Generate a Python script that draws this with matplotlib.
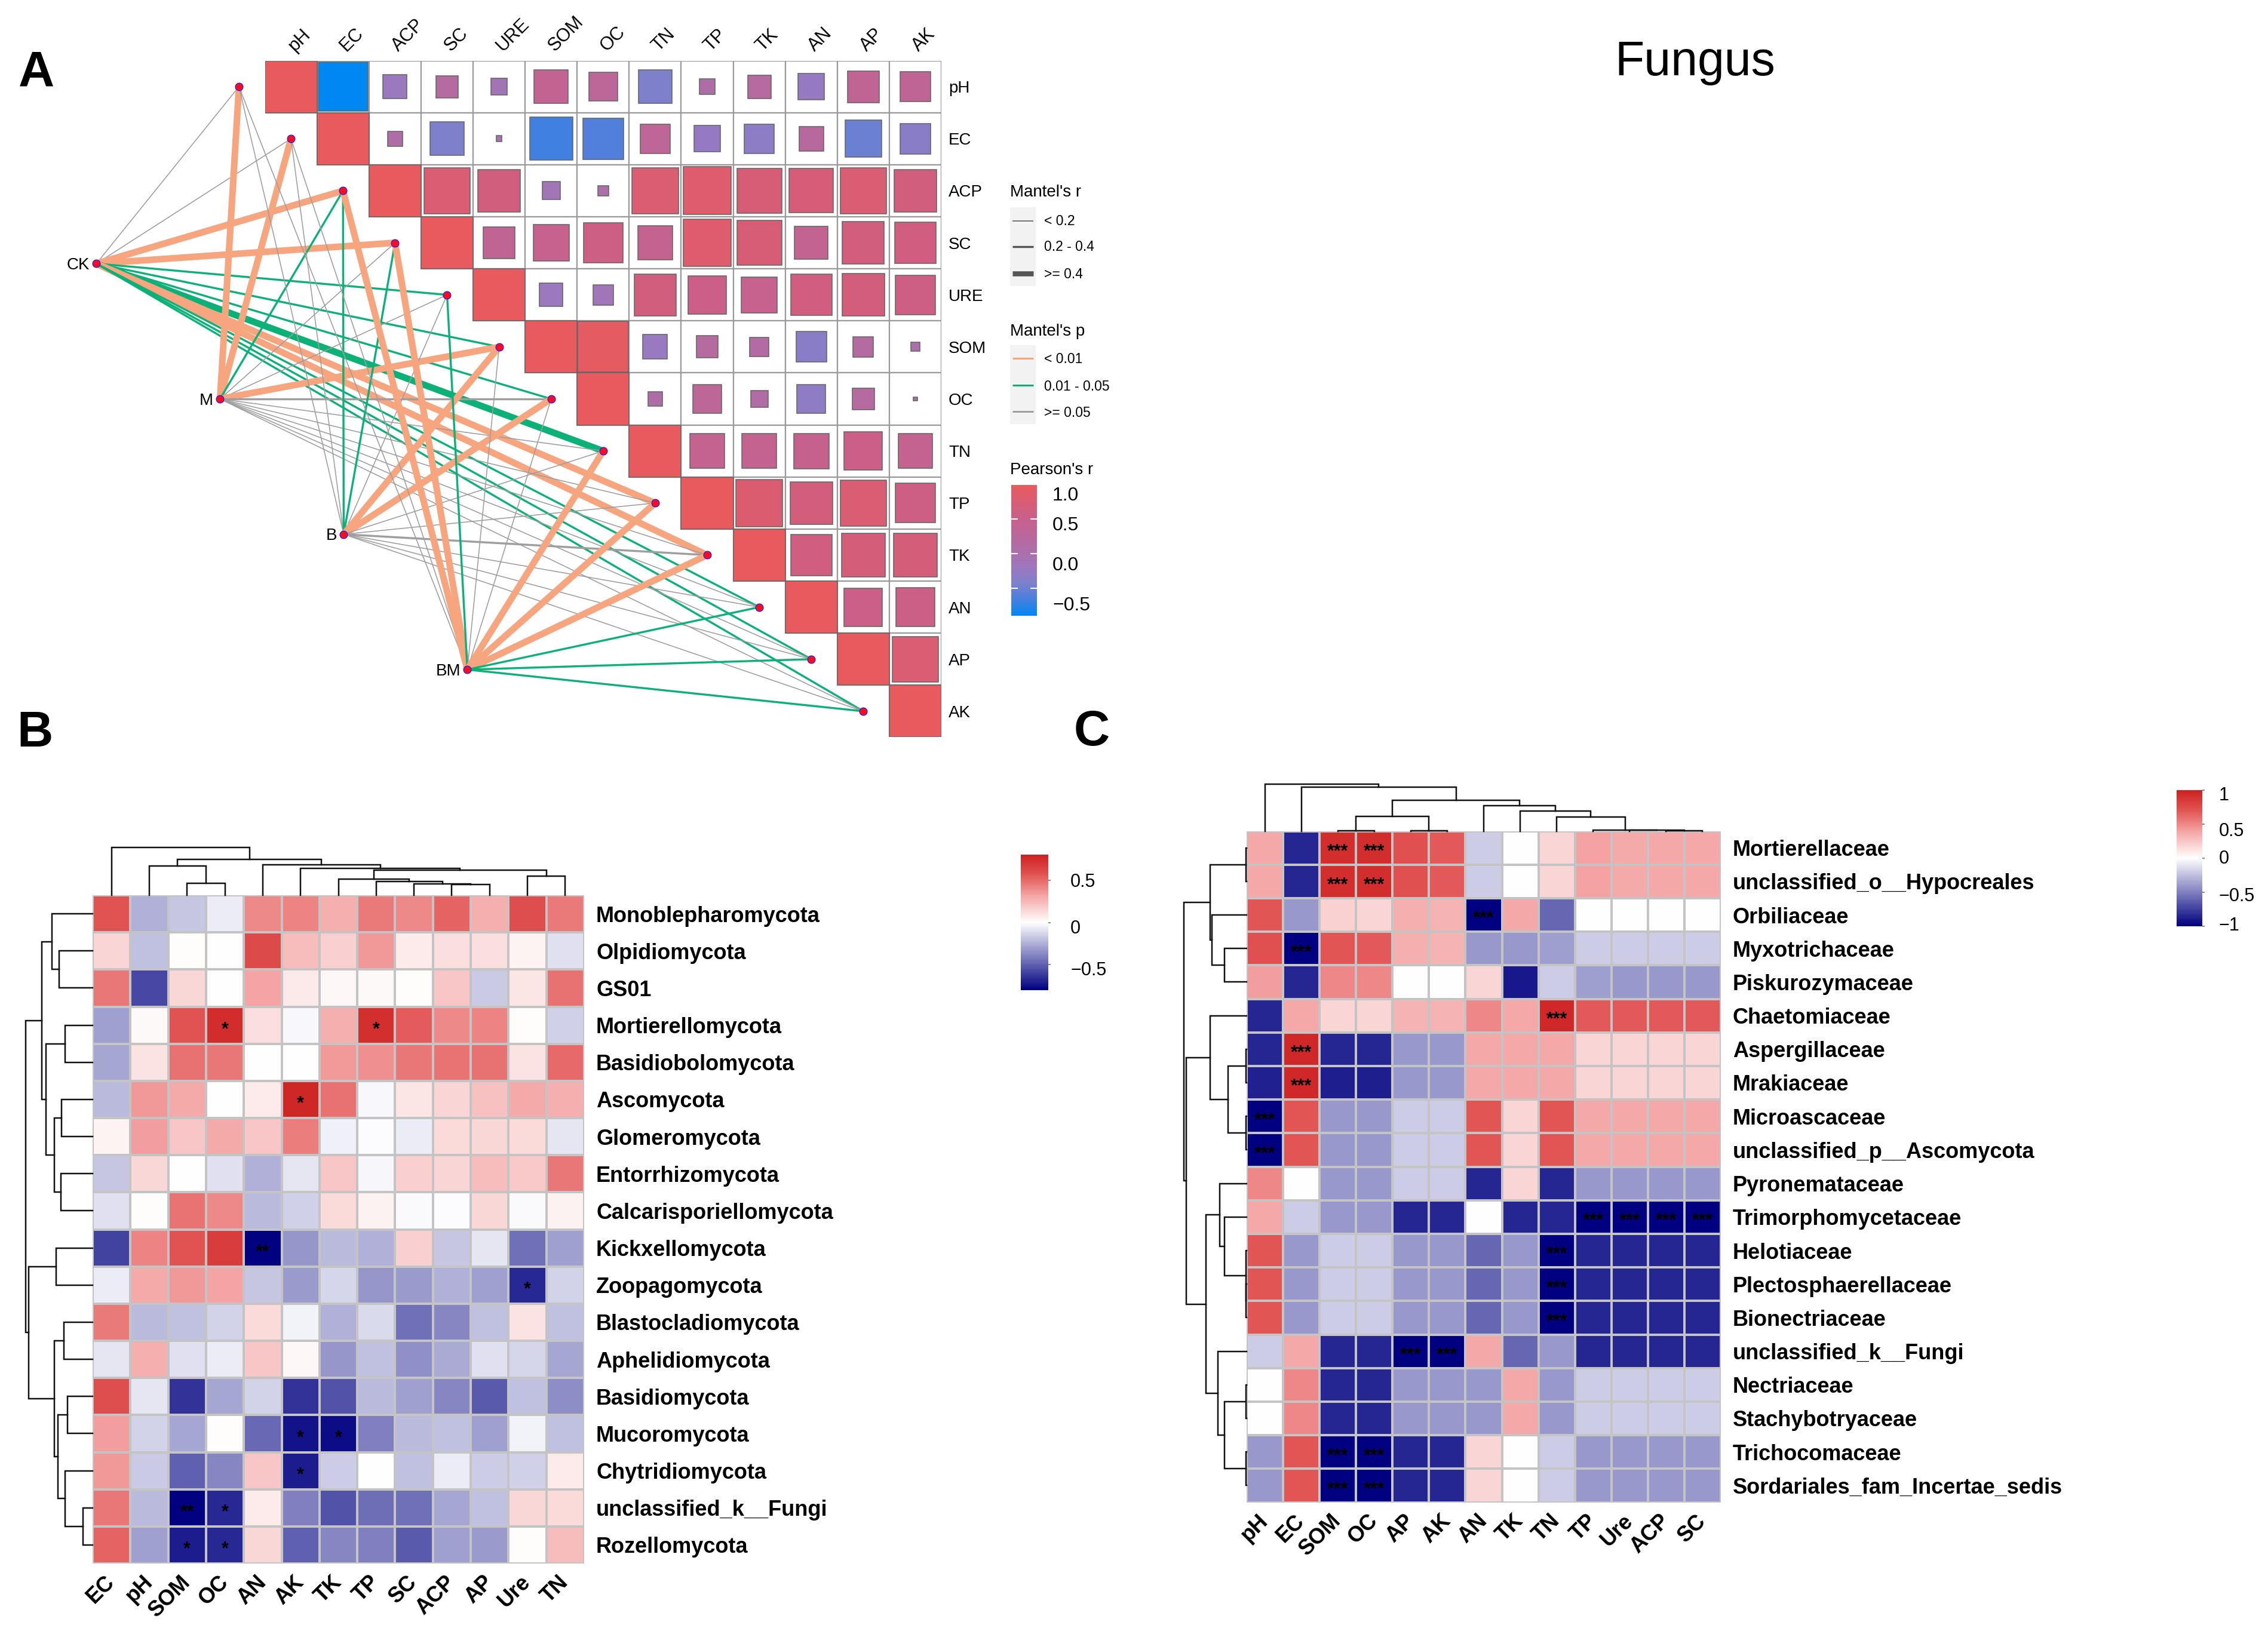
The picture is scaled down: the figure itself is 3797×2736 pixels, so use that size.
import numpy as np
import matplotlib
matplotlib.use("Agg")
import matplotlib.pyplot as plt
from matplotlib.colors import LinearSegmentedColormap, Normalize
from matplotlib.cm import ScalarMappable
from matplotlib.patches import Rectangle

plt.rcParams['font.family'] = ['Liberation Sans', 'DejaVu Sans']

W, H = 3797, 2736

# ---------- Panel A data ----------
env_a = ["pH", "EC", "ACP", "SC", "URE", "SOM", "OC", "TN", "TP", "TK", "AN", "AP", "AK"]
r_pH = [1, -.9, -.21, .18, -.10, .42, .31, -.42, .085, .2, -.25, .37, .34]
r_EC = [1, .08, -.42, -.012, -.69, -.62, .32, -.26, -.32, .22, -.5, -.34]
r_ACP = [1, .77, .65, -.12, .04, .79, .84, .74, .72, .77, .65]
r_SC = [1, .37, .48, .58, .44, .84, .74, .41, .65, .63]
r_URE = [1, -.2, -.15, .65, .54, .48, .63, .67, .58]
r_SOM = [1, .95, -.22, .18, .14, -.34, .15, .03]
r_OC = [1, .08, .31, .11, -.31, .18, .005]
r_TN = [1, .44, .44, .46, .54, .44]
r_TP = [1, .81, .67, .77, .58]
r_TK = [1, .63, .69, .69]
r_AN = [1, .54, .56]
r_AP = [1, .77]
r_AK = [1]
pearson_rows = [r_pH, r_EC, r_ACP, r_SC, r_URE, r_SOM, r_OC, r_TN, r_TP, r_TK, r_AN, r_AP, r_AK]

hubs = ["CK", "M", "B", "BM"]
# p class: 0 <0.01, 1 0.01-0.05, 2 >=0.05 ; r class: 0 <0.2, 1 0.2-0.4, 2 >=0.4
p_CK = [2, 2, 0, 0, 1, 1, 1, 1, 0, 0, 1, 1, 1]
r_CK = [0, 0, 2, 2, 1, 1, 1, 2, 2, 2, 1, 1, 1]
p_M = [0, 0, 1, 2, 2, 0, 2, 2, 2, 2, 2, 2, 2]
r_M = [2, 2, 1, 0, 0, 2, 1, 0, 0, 0, 0, 0, 0]
p_B = [2, 2, 1, 1, 2, 0, 0, 2, 2, 2, 2, 2, 2]
r_B = [0, 0, 1, 1, 0, 2, 2, 0, 0, 1, 0, 0, 0]
p_BM = [2, 2, 0, 0, 1, 2, 2, 0, 0, 0, 1, 1, 1]
r_BM = [0, 0, 2, 2, 1, 0, 0, 2, 2, 2, 1, 1, 1]
mantel_p = [p_CK, p_M, p_B, p_BM]
mantel_r = [r_CK, r_M, r_B, r_BM]
r_legend = ["< 0.2", "0.2 - 0.4", ">= 0.4"]
p_legend = ["< 0.01", "0.01 - 0.05", ">= 0.05"]

# ---------- Panel B data ----------
cols_b = ["EC", "pH", "SOM", "OC", "AN", "AK", "TK", "TP", "SC", "ACP", "AP", "Ure", "TN"]
rows_b = ["Monoblepharomycota", "Olpidiomycota", "GS01", "Mortierellomycota", "Basidiobolomycota",
          "Ascomycota", "Glomeromycota", "Entorrhizomycota", "Calcarisporiellomycota", "Kickxellomycota",
          "Zoopagomycota", "Blastocladiomycota", "Aphelidiomycota", "Basidiomycota", "Mucoromycota",
          "Chytridiomycota", "unclassified_k__Fungi", "Rozellomycota"]
vals_b = [
    [.58, -.25, -.18, -.06, .4, .42, .28, .45, .4, .52, .28, .6, .45],
    [.15, -.2, .01, 0, .62, .24, .17, .36, .07, .12, .12, .04, -.1],
    [.46, -.58, .14, .005, .32, .08, .03, .02, .01, .2, -.17, .09, .48],
    [-.3, .02, .58, .75, .12, -.02, .28, .74, .55, .4, .42, .01, -.15],
    [-.28, .1, .48, .46, 0, 0, .35, .38, .46, .47, .48, .1, .5],
    [-.22, .36, .3, 0, .07, .78, .48, -.02, .09, .15, .22, .3, .28],
    [.04, .34, .2, .3, .2, .44, -.05, -.01, -.06, .13, .14, .13, -.08],
    [-.18, .14, 0, -.1, -.25, -.08, .2, -.03, .17, .15, .24, .19, .46],
    [-.1, .01, .47, .4, -.22, -.15, .13, .05, -.015, -.01, .14, -.015, .05],
    [-.6, .42, .58, .68, -.8, -.33, -.22, -.25, .17, -.18, -.08, -.45, -.3],
    [-.06, .3, .36, .32, -.18, -.32, -.13, -.33, -.32, -.25, -.3, -.68, -.14],
    [.45, -.22, -.2, -.14, .13, -.04, -.25, -.12, -.45, -.38, -.2, .1, -.2],
    [-.08, .28, -.1, -.06, .2, .03, -.33, -.2, -.35, -.27, -.1, -.13, -.28],
    [.6, -.08, -.65, -.28, -.14, -.65, -.55, -.22, -.3, -.38, -.52, -.2, -.36],
    [.34, -.14, -.28, .01, -.48, -.75, -.77, -.4, -.22, -.2, -.3, -.04, -.2],
    [.36, -.17, -.5, -.38, .2, -.72, -.16, 0, -.2, -.06, -.16, -.15, .07],
    [.46, -.22, -.8, -.68, .07, -.4, -.55, -.46, -.45, -.28, -.2, .14, .13],
    [.52, -.3, -.72, -.68, .14, -.5, -.38, -.4, -.52, -.3, -.32, .01, .24],
]
stars_b = {(3, 3): "*", (3, 7): "*", (5, 5): "*", (9, 4): "**", (10, 11): "*", (14, 5): "*", (14, 6): "*",
           (15, 5): "*", (16, 2): "**", (16, 3): "*", (17, 2): "*", (17, 3): "*"}
tree_b_top = (90, 0, (68, (55, 1, (23, 2, 3)), (58, 4, (51, 5, (47, (30, 6, (26, 7, (22, 8, (20, 9, 10)))), (36, 11, 12))))))
tree_b_left = (92, (70, (56, 0, (46, 1, 2)), (64, (38, 3, 4), (53, (43, 5, 6), (44, 7, 8)))),
               (88, (50, 9, 10), (53, (40, 11, 12), (48, (35, 13, 14), (38, 15, (13, 16, 17))))))

# ---------- Panel C data ----------
cols_c = ["pH", "EC", "SOM", "OC", "AP", "AK", "AN", "TK", "TN", "TP", "Ure", "ACP", "SC"]
rows_c = ["Mortierellaceae", "unclassified_o__Hypocreales", "Orbiliaceae", "Myxotrichaceae", "Piskurozymaceae",
          "Chaetomiaceae", "Aspergillaceae", "Mrakiaceae", "Microascaceae", "unclassified_p__Ascomycota",
          "Pyronemataceae", "Trimorphomycetaceae", "Helotiaceae", "Plectosphaerellaceae", "Bionectriaceae",
          "unclassified_k__Fungi", "Nectriaceae", "Stachybotryaceae", "Trichocomaceae",
          "Sordariales_fam_Incertae_sedis"]
vals_c = [
    [.38, -.85, .92, .92, .72, .68, -.2, 0, .18, .4, .37, .38, .38],
    [.38, -.85, .92, .92, .72, .68, -.2, 0, .18, .4, .37, .38, .38],
    [.7, -.4, .2, .18, .35, .33, -1, .38, -.6, 0, 0, 0, 0],
    [.72, -1, .7, .68, .35, .33, -.4, -.4, -.38, -.2, -.2, -.2, -.2],
    [.42, -.85, .5, .5, 0, 0, .18, -.9, -.2, -.38, -.4, -.4, -.4],
    [-.85, .38, .18, .18, .33, .33, .5, .38, .95, .68, .68, .68, .68],
    [-.85, .95, -.85, -.85, -.4, -.4, .38, .38, .38, .18, .18, .18, .18],
    [-.87, .95, -.88, -.88, -.4, -.4, .38, .38, .38, .18, .18, .18, .18],
    [-1, .7, -.4, -.4, -.2, -.2, .7, .18, .7, .38, .38, .38, .38],
    [-1, .7, -.4, -.4, -.2, -.2, .7, .18, .7, .38, .38, .38, .38],
    [.5, 0, -.4, -.4, -.2, -.2, -.85, .18, -.85, -.4, -.4, -.4, -.4],
    [.38, -.2, -.4, -.4, -.85, -.85, 0, -.85, -.85, -1, -1, -1, -1],
    [.7, -.4, -.2, -.2, -.4, -.4, -.6, -.4, -1, -.85, -.85, -.85, -.85],
    [.7, -.4, -.2, -.2, -.4, -.4, -.6, -.4, -1, -.85, -.85, -.85, -.85],
    [.7, -.4, -.2, -.2, -.4, -.4, -.6, -.4, -1, -.85, -.85, -.85, -.85],
    [-.2, .38, -.85, -.85, -1, -1, .38, -.6, -.4, -.85, -.85, -.85, -.85],
    [0, .5, -.85, -.85, -.4, -.4, -.4, .38, -.4, -.2, -.2, -.2, -.2],
    [0, .5, -.85, -.85, -.4, -.4, -.4, .38, -.4, -.2, -.2, -.2, -.2],
    [-.4, .7, -1, -1, -.85, -.85, .18, 0, -.2, -.4, -.4, -.4, -.4],
    [-.4, .7, -1, -1, -.85, -.85, .18, 0, -.2, -.4, -.4, -.4, -.4],
]
stars_c = {(0, 2): "***", (0, 3): "***", (1, 2): "***", (1, 3): "***", (2, 6): "***", (3, 1): "***",
           (5, 8): "***", (6, 1): "***", (7, 1): "***", (8, 0): "***", (9, 0): "***",
           (11, 9): "***", (11, 10): "***", (11, 11): "***", (11, 12): "***",
           (12, 8): "***", (13, 8): "***", (14, 8): "***", (15, 4): "***", (15, 5): "***",
           (18, 2): "***", (18, 3): "***", (19, 2): "***", (19, 3): "***"}
tree_c_top = (88, 0, (82, 1, (58, (28, (1, 2, 3), (1, 4, 5)),
              (48, 6, (38, 7, (26, 8, (1.5, 9, (1.2, 10, (1, 11, 12)))))))))
tree_c_left = (89, (52, (1, 0, 1), (49, 2, (31, 3, 4))),
               (86, (52, 5, (26, (1, 6, 7), (1, 8, 9))),
                (58, (38, 10, (31, 11, (1, 12, (.8, 13, 14)))), (41, 15, (31, (1, 16, 17), (1, 18, 19))))))

# ---------- helpers ----------
fig = plt.figure(figsize=(W / 100, H / 100), dpi=100, facecolor="white")


def axpx(x0, y0, x1, y1, **kw):
    return fig.add_axes([x0 / W, 1 - y1 / H, (x1 - x0) / W, (y1 - y0) / H], **kw)


def px(p):
    return p * 0.72


over = fig.add_axes([0, 0, 1, 1], zorder=20)
over.set_xlim(0, W)
over.set_ylim(H, 0)
over.axis("off")
over.patch.set_alpha(0)

heat = LinearSegmentedColormap.from_list(
    "navy_white_red",
    [(0, "#000080"), (.5, "#ffffff"), (.69, "#f5a8a8"), (.85, "#e25555"), (1, "#CD2020")])


def dendro(ax, node, orient):
    if not isinstance(node, tuple):
        return node + 0.5, 0.0
    h, a, b = node
    ca, ha_ = dendro(ax, a, orient)
    cb, hb = dendro(ax, b, orient)
    ps = [ca, ca, cb, cb]
    hs = [ha_, h, h, hb]
    if orient == "top":
        ax.plot(ps, hs, color="#111111", lw=px(2.5), solid_joinstyle="miter", clip_on=False)
    else:
        ax.plot([-v for v in hs], ps, color="#111111", lw=px(2.5), solid_joinstyle="miter", clip_on=False)
    return (ca + cb) / 2, h


def heatmap(rect, vals, cols, rows, stars, vlim, tree_top, tree_left, top_px, left_px, top_max, left_max, star_fs):
    x0, y0, x1, y1 = rect
    data = np.array(vals, dtype=float)
    nr, nc = data.shape
    ax = axpx(x0, y0, x1, y1)
    ax.pcolormesh(np.arange(nc + 1), np.arange(nr + 1), data, cmap=heat, vmin=-vlim, vmax=vlim,
                  edgecolors="#c4c4c4", linewidth=px(2.5))
    ax.set_xlim(0, nc)
    ax.set_ylim(nr, 0)
    for s in ax.spines.values():
        s.set_visible(False)
    ax.set_xticks(np.arange(nc) + .5)
    ax.set_xticklabels(cols, rotation=45, ha="right", va="center", rotation_mode="anchor",
                       fontsize=26, fontweight="bold")
    ax.tick_params(axis="x", length=0, pad=px(26))
    ax.yaxis.tick_right()
    ax.set_yticks(np.arange(nr) + .5)
    ax.set_yticklabels(rows, fontsize=26, fontweight="bold")
    ax.tick_params(axis="y", length=0, pad=px(20))
    for (i, j), s in stars.items():
        ax.text(j + .5, i + .62, s, ha="center", va="center", fontsize=star_fs, fontweight="bold", color="black")
    t = axpx(x0, y0 - top_px, x1, y0)
    dendro(t, tree_top, "top")
    t.set_xlim(0, nc)
    t.set_ylim(0, top_max)
    t.axis("off")
    l = axpx(x0 - left_px, y0, x0, y1)
    dendro(l, tree_left, "left")
    l.set_xlim(-left_max, 0)
    l.set_ylim(nr, 0)
    l.axis("off")


def cbar_heat(rect, vlim, ticks, labels):
    cax = axpx(*rect)
    cb = fig.colorbar(ScalarMappable(Normalize(-vlim, vlim), heat), cax=cax, ticks=ticks)
    cb.outline.set_visible(False)
    cb.ax.tick_params(length=3, width=1.2, color="#777777", labelright=False)
    for txt, (lx, ly) in labels:
        over.text(lx, ly, txt, fontsize=22, ha="left", va="center")


# ---------- Panel A ----------
GX0, GX1, GY0, GY1 = 443.6, 1576, 101.5, 1234.5
axa = axpx(GX0, GY0, GX1, GY1)
axa.set_xlim(-.5, 12.5)
axa.set_ylim(12.5, -.5)
for s in axa.spines.values():
    s.set_visible(False)

pear_stops = [(-.9, "#0088f2"), (-.7, "#3e80e2"), (-.42, "#8080cc"), (-.2, "#9c78be"), (0, "#aa70ac"),
              (.5, "#c8608c"), (1.0, "#e85a5e")]
pnorm = Normalize(-.9, 1.0)
pcmap = LinearSegmentedColormap.from_list("pearson", [(pnorm(v), c) for v, c in pear_stops])

hub_x = np.linspace(-3.74, 3.39, 4)
hub_y = np.linspace(3.40, 11.2, 4)
p_cols = ["#F7A57E", "#0CB177", "#9E9E9E"]
r_widths = [1.6, 3.4, 11]
for h, name in enumerate(hubs):
    for j in range(len(env_a)):
        axa.plot([hub_x[h], j - 1], [hub_y[h], j], color=p_cols[mantel_p[h][j]],
                 lw=px(r_widths[mantel_r[h][j]]), clip_on=False, zorder=1, solid_capstyle="butt")
    axa.text(hub_x[h] - .13, hub_y[h] + .03, name, ha="right", va="center", fontsize=20, zorder=5)
node_x = np.arange(len(env_a)) - 1
node_y = np.arange(len(env_a))
axa.scatter(node_x, node_y, s=85, facecolor="#FF0A20", edgecolor="#2020E0", linewidth=.9, zorder=4, clip_on=False)
axa.scatter(hub_x, hub_y, s=85, facecolor="#FF0A20", edgecolor="#2020E0", linewidth=.9, zorder=4, clip_on=False)

for i, row in enumerate(pearson_rows):
    for k, r in enumerate(row):
        j = i + k
        axa.add_patch(Rectangle((j - .5, i - .5), 1, 1, fc="white", ec="#9a9a9a", lw=px(2.2), zorder=2))
        side = np.sqrt(abs(r))
        axa.add_patch(Rectangle((j - side / 2, i - side / 2), side, side, fc=pcmap(pnorm(r)),
                                ec="#666666", lw=px(1.6), zorder=3))
axa.xaxis.tick_top()
axa.set_xticks(np.arange(13))
axa.set_xticklabels(env_a, rotation=45, ha="left", va="center", rotation_mode="anchor", fontsize=22)
axa.tick_params(axis="x", length=0, pad=px(20))
axa.yaxis.tick_right()
axa.set_yticks(np.arange(13))
axa.set_yticklabels(env_a, fontsize=20)
axa.tick_params(axis="y", length=0, pad=px(12))

# legends of panel A
over.text(1691, 322, "Mantel's r", fontsize=20, va="center")
over.add_patch(Rectangle((1691, 347), 43, 132, fc="#f2f2f2", ec="none"))
for y, lab, lw_ in zip([369.5, 413, 458], r_legend, [1.6, 3.4, 8.5]):
    over.plot([1695, 1730], [y, y], color="#555555", lw=px(lw_), solid_capstyle="butt")
    over.text(1748, y + 1, lab, fontsize=16.5, va="center")
over.text(1691, 555, "Mantel's p", fontsize=20, va="center")
over.add_patch(Rectangle((1691, 578), 43, 132, fc="#f2f2f2", ec="none"))
for y, lab, c in zip([600, 645, 689], p_legend, p_cols):
    over.plot([1695, 1730], [y, y], color=c, lw=px(3), solid_capstyle="butt")
    over.text(1748, y + 2, lab, fontsize=16.5, va="center")
over.text(1691, 787, "Pearson's r", fontsize=20, va="center", zorder=2)
over.add_patch(Rectangle((1688, 794), 130, 18, fc="white", ec="none", zorder=3))
cax_a = axpx(1693, 811, 1736, 1031)
cb_a = fig.colorbar(ScalarMappable(pnorm, pcmap), cax=cax_a, ticks=[1.0, .5, 0, -.5])
cb_a.outline.set_visible(False)
cb_a.ax.tick_params(length=8, width=1.5, color="white", direction="in", left=True, right=True, labelright=False)
for txt, y in zip(["1.0", "0.5", "0.0", "\u22120.5"], [830, 880, 947, 1014]):
    over.text(1762, y, txt, fontsize=23, va="center")

# ---------- Panels B, C ----------
heatmap((155, 1499, 978, 2618), vals_b, cols_b, rows_b, stars_b, .81, tree_b_top, tree_b_left,
        90 / 1.131, 92 / .825, 90, 92, 22)
heatmap((2087, 1391.5, 2881, 2515.5), vals_c, cols_c, rows_c, stars_c, 1.0, tree_c_top, tree_c_left,
        88 / 1.12, 89 / .849, 88, 89, 22)
cbar_heat((1709, 1431, 1755, 1658), .81, [.5, 0, -.5],
          [("0.5", (1792, 1477)), ("0", (1792, 1555)), ("\u22120.5", (1792, 1625))])
cbar_heat((3644, 1323, 3687, 1551), 1.0, [1, .5, 0, -.5, -1],
          [("1", (3715, 1332)), ("0.5", (3715, 1392)), ("0", (3715, 1438)),
           ("\u22120.5", (3715, 1501)), ("\u22121", (3715, 1550))])

# ---------- Panel letters and title ----------
for lab, x, y in [("A", 31, 123), ("B", 28, 1228), ("C", 1798, 1226)]:
    over.text(x, y, lab, fontsize=60, fontweight="bold", ha="left", va="center")
over.text(2703, 126, "Fungus", fontsize=58, ha="left", va="baseline")

fig.savefig("out.png", dpi=100, facecolor="white")
